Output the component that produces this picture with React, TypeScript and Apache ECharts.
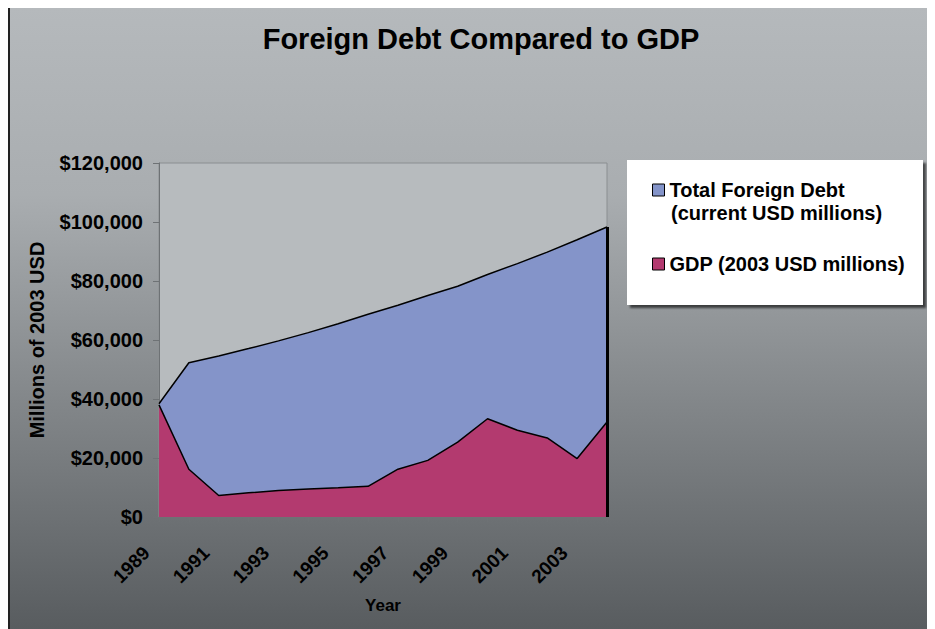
import React, { useEffect, useRef } from "react";
import * as echarts from "echarts";

const years = ["1989","1990","1991","1992","1993","1994","1995","1996","1997","1998","1999","2000","2001","2002","2003","2004"];
const debtValues = [38400, 52300, 54600, 57100, 59700, 62500, 65500, 68700, 71800, 75100, 78200, 82200, 85900, 89800, 94000, 98300];
const gdpValues = [38000, 16200, 7300, 8200, 9000, 9500, 9900, 10400, 16200, 19200, 25400, 33300, 29400, 26800, 19800, 32200];
const debtName = "Total Foreign Debt";
const debtSubName = "(current USD millions)";
const gdpName = "GDP (2003 USD millions)";

const FONT = "'Liberation Sans', Arial, sans-serif";

export default function App() {
  const ref = useRef<HTMLDivElement>(null);
  useEffect(() => {
    if (!ref.current) return;
    const chart = echarts.init(ref.current, undefined, { renderer: "svg" });
    chart.setOption({
      animation: false,
      backgroundColor: new echarts.graphic.LinearGradient(0, 0, 0, 1, [
        { offset: 0, color: "#b5b9bc" },
        { offset: 0.3, color: "#a9adb0" },
        { offset: 1, color: "#585c5f" },
      ]),
      textStyle: { fontFamily: FONT },
      title: {
        text: "Foreign Debt Compared to GDP",
        left: 466,
        textAlign: "center",
        top: 11,
        textStyle: { fontFamily: FONT, fontSize: 29, fontWeight: "bold", color: "#000" },
      },
      grid: {
        left: 149,
        top: 155,
        width: 448,
        height: 354,
        show: true,
        backgroundColor: "#b7bbbe",
        borderColor: "#8a8e91",
        borderWidth: 1,
      },
      legend: {
        orient: "vertical",
        left: 637,
        top: 166,
        itemWidth: 12,
        itemHeight: 12,
        itemGap: 52,
        icon: "rect",
        selectedMode: false,
        textStyle: { fontFamily: FONT, fontSize: 20, fontWeight: "bold", color: "#000", lineHeight: 22 },
        data: [
          { name: debtName, itemStyle: { color: "#8494c9", borderColor: "#000", borderWidth: 1 } },
          { name: gdpName, itemStyle: { color: "#b33a6f", borderColor: "#000", borderWidth: 1 } },
        ],
      },
      graphic: [
        {
          type: "rect",
          shape: { x: 617, y: 152, width: 296, height: 145 },
          z: -1,
          style: { fill: "#ffffff", shadowBlur: 2, shadowOffsetX: 3, shadowOffsetY: 3, shadowColor: "rgba(0,0,0,0.6)" },
        },
        {
          type: "text",
          x: 661,
          y: 205,
          style: { text: debtSubName, font: "bold 20px " + FONT, fill: "#000", textVerticalAlign: "middle" },
        },
      ],
      xAxis: {
        type: "category",
        data: years,
        boundaryGap: false,
        name: "Year",
        nameLocation: "middle",
        nameGap: 80,
        nameTextStyle: { fontFamily: FONT, fontSize: 17, fontWeight: "bold", color: "#000" },
        axisLine: { lineStyle: { color: "#6e7275", width: 1 } },
        axisTick: { show: true, interval: 0, length: 5, lineStyle: { color: "#6e7275" } },
        axisLabel: {
          interval: 1,
          rotate: 45,
          margin: 20,
          padding: [0, 18, 0, 0],
          fontFamily: FONT,
          fontSize: 19,
          fontWeight: "bold",
          color: "#000",
        },
        splitLine: { show: false },
      },
      yAxis: {
        type: "value",
        min: 0,
        max: 120000,
        interval: 20000,
        name: "Millions of 2003 USD",
        nameLocation: "middle",
        nameGap: 112,
        nameTextStyle: { fontFamily: FONT, fontSize: 20, fontWeight: "bold", color: "#000" },
        axisLine: { show: true, lineStyle: { color: "#6e7275" } },
        axisTick: { show: true, length: 6, lineStyle: { color: "#6e7275" } },
        splitLine: { show: false },
        axisLabel: {
          margin: 16,
          fontFamily: FONT,
          fontSize: 20,
          fontWeight: "bold",
          color: "#000",
          formatter: (v: number) => "$" + v.toLocaleString("en-US"),
        },
      },
      series: [
        {
          name: debtName,
          type: "line",
          data: debtValues,
          symbol: "none",
          lineStyle: { color: "#000", width: 1.5 },
          itemStyle: { color: "#8494c9" },
          areaStyle: { color: "#8494c9", opacity: 1 },
          z: 2,
        },
        {
          name: gdpName,
          type: "line",
          data: gdpValues,
          symbol: "none",
          lineStyle: { color: "#000", width: 1.5 },
          itemStyle: { color: "#b33a6f" },
          areaStyle: { color: "#b33a6f", opacity: 1 },
          z: 3,
          markLine: {
            silent: true,
            symbol: "none",
            label: { show: false },
            lineStyle: { color: "#000", width: 3, type: "solid" },
            data: [
              [
                { coord: [years[years.length - 1], 0] },
                { coord: [years[years.length - 1], debtValues[debtValues.length - 1]] },
              ],
            ],
          },
        },
      ],
    });
    return () => chart.dispose();
  }, []);
  return (
    <div
      ref={ref}
      style={{
        width: 924,
        height: 623,
        marginTop: -2,
        borderTop: "2px solid #222",
        borderLeft: "2px solid #222",
        borderRight: "1px solid #8a8e91",
      }}
    />
  );
}
